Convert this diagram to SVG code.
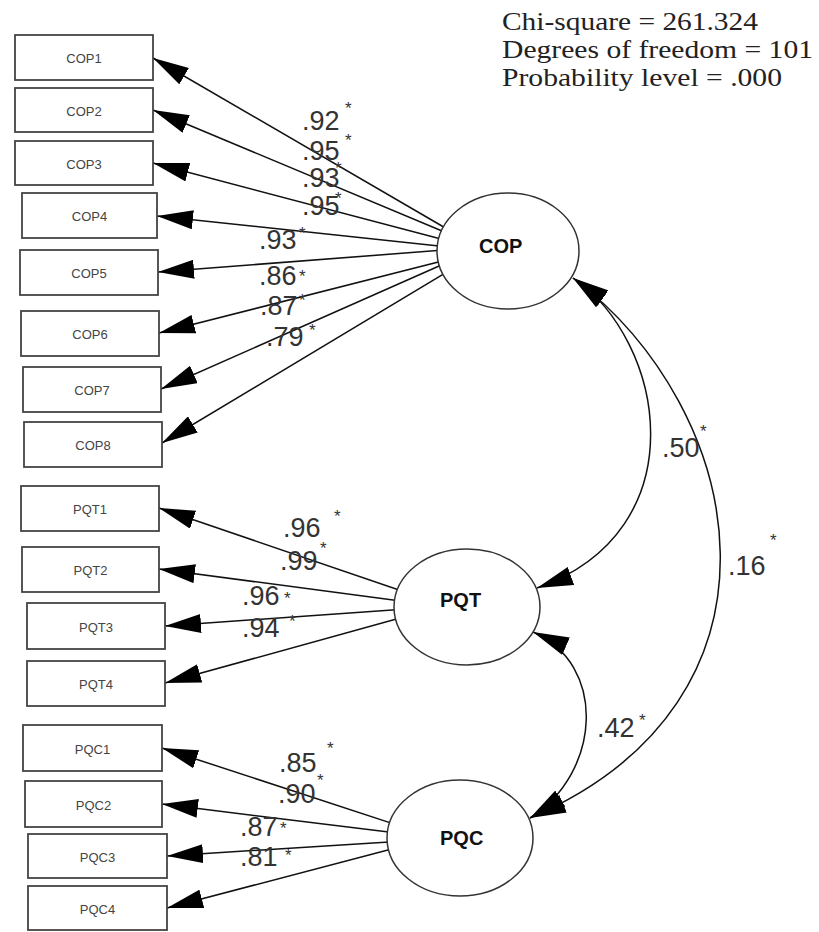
<svg xmlns="http://www.w3.org/2000/svg" width="819" height="932" viewBox="0 0 819 932">
  <style>
    .box { fill: #fff; stroke: #444; stroke-width: 1.8; }
    .lat { fill: #fff; stroke: #333; stroke-width: 1.5; }
    .obs { font-family: "Liberation Sans", Arial, sans-serif; font-size: 13px; fill: #444; text-anchor: middle; }
    .latname { font-family: "Liberation Sans", Arial, sans-serif; font-size: 20px; font-weight: bold; fill: #111; }
    .coef { font-family: "Liberation Sans", Arial, sans-serif; font-size: 27px; fill: #333; }
    .star { font-family: "Liberation Sans", Arial, sans-serif; font-size: 17px; fill: #333; }
    .fit { font-family: "Liberation Serif", "Times New Roman", serif; font-size: 24.5px; fill: #222; }
    .path { fill: none; stroke: #111; stroke-width: 1.5; }
  </style>
  <defs>
    <marker id="ah" viewBox="0 0 36 19" refX="36" refY="9.5" markerWidth="36" markerHeight="19" markerUnits="userSpaceOnUse" orient="auto-start-reverse">
      <path d="M0,0 L36,9.5 L0,19 z" fill="#000"/>
    </marker>
  </defs>
  <rect width="819" height="932" fill="#fff"/>

  <!-- model fit summary -->
  <g id="fit-stats">
    <text class="fit" x="502" y="30" textLength="256" lengthAdjust="spacingAndGlyphs">Chi-square = 261.324</text>
    <text class="fit" x="502" y="58" textLength="311" lengthAdjust="spacingAndGlyphs">Degrees of freedom = 101</text>
    <text class="fit" x="502" y="86" textLength="280" lengthAdjust="spacingAndGlyphs">Probability level = .000</text>
  </g>

  <!-- loadings and covariances -->
  <g id="connectors">
    <path class="path" marker-end="url(#ah)" d="M460,236.5 L153,58"/>
    <path class="path" marker-end="url(#ah)" d="M460,238.5 L153,110"/>
    <path class="path" marker-end="url(#ah)" d="M460,244.1 L153,163"/>
    <path class="path" marker-end="url(#ah)" d="M460,248.3 L157,216"/>
    <path class="path" marker-end="url(#ah)" d="M460,248.8 L158,272"/>
    <path class="path" marker-end="url(#ah)" d="M460,256.6 L159,333"/>
    <path class="path" marker-end="url(#ah)" d="M460,256.8 L161,389"/>
    <path class="path" marker-end="url(#ah)" d="M460,264.1 L162,443"/>

    <path class="path" marker-end="url(#ah)" d="M410,593.8 L159,508"/>
    <path class="path" marker-end="url(#ah)" d="M410,602.3 L159,569"/>
    <path class="path" marker-end="url(#ah)" d="M410,608.8 L165,626"/>
    <path class="path" marker-end="url(#ah)" d="M410,615.3 L165,683"/>

    <path class="path" marker-end="url(#ah)" d="M405,827.6 L162,748"/>
    <path class="path" marker-end="url(#ah)" d="M405,834.1 L162,804"/>
    <path class="path" marker-end="url(#ah)" d="M405,840.9 L167,856"/>
    <path class="path" marker-end="url(#ah)" d="M405,845.5 L167,908"/>

    <path class="path" marker-start="url(#ah)" marker-end="url(#ah)" d="M573,278 C665,340 700,530 537,588"/>
    <path class="path" marker-start="url(#ah)" marker-end="url(#ah)" d="M573,278 C748,410 805,700 530,818"/>
    <path class="path" marker-start="url(#ah)" marker-end="url(#ah)" d="M533,632 C607,664 602,772 530,818"/>
  </g>

  <g id="coefficients">
    <text class="coef" x="302" y="130">.92</text><text class="star" x="345" y="114">*</text>
    <text class="coef" x="302" y="160">.95</text><text class="star" x="345" y="146">*</text>
    <text class="coef" x="302" y="187">.93</text><text class="star" x="335" y="174">*</text>
    <text class="coef" x="302" y="215">.95</text><text class="star" x="335" y="204">*</text>
    <text class="coef" x="259" y="249">.93</text><text class="star" x="299" y="239">*</text>
    <text class="coef" x="259" y="285">.86</text><text class="star" x="299" y="282">*</text>
    <text class="coef" x="260" y="315">.87</text><text class="star" x="299" y="306">*</text>
    <text class="coef" x="266" y="346">.79</text><text class="star" x="309" y="336">*</text>

    <text class="coef" x="283" y="537">.96</text><text class="star" x="334" y="522">*</text>
    <text class="coef" x="280" y="570">.99</text><text class="star" x="320" y="554">*</text>
    <text class="coef" x="242" y="605">.96</text><text class="star" x="284" y="604">*</text>
    <text class="coef" x="242" y="637">.94</text><text class="star" x="289" y="627">*</text>

    <text class="coef" x="279" y="772">.85</text><text class="star" x="327" y="754">*</text>
    <text class="coef" x="278" y="803">.90</text><text class="star" x="317" y="786">*</text>
    <text class="coef" x="240" y="836">.87</text><text class="star" x="280" y="834">*</text>
    <text class="coef" x="240" y="866">.81</text><text class="star" x="285" y="861">*</text>

    <text class="coef" x="662" y="457">.50</text><text class="star" x="700" y="437">*</text>
    <text class="coef" x="728" y="575">.16</text><text class="star" x="770" y="546">*</text>
    <text class="coef" x="597" y="737">.42</text><text class="star" x="639" y="726">*</text>
  </g>

  <!-- observed indicators -->
  <g id="COP1"><rect class="box" x="15" y="35" width="138" height="45"/><text class="obs" x="84" y="63">COP1</text></g>
  <g id="COP2"><rect class="box" x="15" y="88" width="138" height="44"/><text class="obs" x="84" y="115.5">COP2</text></g>
  <g id="COP3"><rect class="box" x="15" y="141" width="138" height="44"/><text class="obs" x="84" y="168.5">COP3</text></g>
  <g id="COP4"><rect class="box" x="22" y="193" width="135" height="45"/><text class="obs" x="89.5" y="221">COP4</text></g>
  <g id="COP5"><rect class="box" x="20" y="250" width="138" height="45"/><text class="obs" x="89" y="278">COP5</text></g>
  <g id="COP6"><rect class="box" x="21" y="311" width="138" height="45"/><text class="obs" x="90" y="339">COP6</text></g>
  <g id="COP7"><rect class="box" x="23" y="367" width="138" height="45"/><text class="obs" x="92" y="395">COP7</text></g>
  <g id="COP8"><rect class="box" x="24" y="422" width="138" height="45"/><text class="obs" x="93" y="450">COP8</text></g>

  <g id="PQT1"><rect class="box" x="21" y="486" width="138" height="45"/><text class="obs" x="90" y="514">PQT1</text></g>
  <g id="PQT2"><rect class="box" x="22" y="547" width="137" height="45"/><text class="obs" x="90.5" y="575">PQT2</text></g>
  <g id="PQT3"><rect class="box" x="27" y="603" width="138" height="46"/><text class="obs" x="96" y="631.5">PQT3</text></g>
  <g id="PQT4"><rect class="box" x="27" y="661" width="138" height="45"/><text class="obs" x="96" y="689">PQT4</text></g>

  <g id="PQC1"><rect class="box" x="23" y="725" width="139" height="46"/><text class="obs" x="92.5" y="753.5">PQC1</text></g>
  <g id="PQC2"><rect class="box" x="25" y="781" width="137" height="46"/><text class="obs" x="93.5" y="809.5">PQC2</text></g>
  <g id="PQC3"><rect class="box" x="28" y="834" width="139" height="44"/><text class="obs" x="97.5" y="861.5">PQC3</text></g>
  <g id="PQC4"><rect class="box" x="28" y="886" width="139" height="44"/><text class="obs" x="97.5" y="913.5">PQC4</text></g>

  <!-- latent factors -->
  <g id="COP"><ellipse class="lat" cx="508" cy="251" rx="71" ry="58"/><text class="latname" x="479" y="253">COP</text></g>
  <g id="PQT"><ellipse class="lat" cx="467" cy="607" rx="73" ry="58"/><text class="latname" x="440" y="607">PQT</text></g>
  <g id="PQC"><ellipse class="lat" cx="460" cy="838" rx="73" ry="58"/><text class="latname" x="440" y="845">PQC</text></g>
</svg>
